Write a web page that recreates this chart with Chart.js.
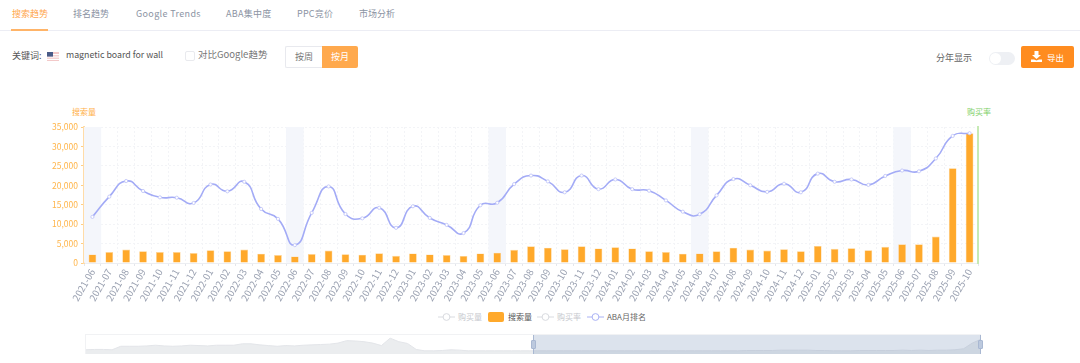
<!DOCTYPE html>
<html lang="zh">
<head>
<meta charset="utf-8">
<title>搜索趋势</title>
<script src="https://cdn.jsdelivr.net/npm/chart.js@4"></script>
<style>
html,body{margin:0;padding:0;background:#fff;}
body{width:1080px;height:363px;overflow:hidden;position:relative;font-family:"Noto Sans CJK SC","Noto Sans",sans-serif;}
.t{position:absolute;white-space:nowrap;line-height:1;}
.box{position:absolute;box-sizing:border-box;}
canvas{position:absolute;display:block;}
</style>
</head>
<body>
<div class="t" style="left:12px;top:9px;font-size:9px;color:#FFA64D">搜索趋势</div>
<div class="t" style="left:73px;top:9px;font-size:9px;color:#8b93a3">排名趋势</div>
<div class="t" style="left:136px;top:9px;font-size:9px;letter-spacing:.35px;color:#8b93a3">Google Trends</div>
<div class="t" style="left:226px;top:9px;font-size:9px;letter-spacing:.3px;color:#8b93a3">ABA集中度</div>
<div class="t" style="left:297px;top:9px;font-size:9px;letter-spacing:.2px;color:#8b93a3">PPC竞价</div>
<div class="t" style="left:359px;top:9px;font-size:9px;color:#8b93a3">市场分析</div>
<div class="box" style="left:0;top:30px;width:1080px;height:1px;background:#ecedf4"></div>
<div class="box" style="left:11px;top:29px;width:37px;height:2px;background:#FFB468"></div>

<div class="t" style="left:12px;top:51px;font-size:9px;color:#555">关键词:</div>
<svg class="box" style="left:47px;top:52px" width="12" height="9" viewBox="0 0 12 9">
<rect width="12" height="9" fill="#f3c9c9"/><rect y="2" width="12" height="1.2" fill="#fff"/><rect y="4.4" width="12" height="1.2" fill="#fff"/><rect y="6.8" width="12" height="1.2" fill="#fff"/><rect width="6" height="4.6" fill="#4a5c88"/>
</svg>
<div class="t" style="left:66px;top:51px;font-size:8.8px;color:#555">magnetic board for wall</div>
<div class="box" style="left:185px;top:51px;width:10px;height:10px;border:1px solid #e9eaee;border-radius:2px"></div>
<div class="t" style="left:198px;top:50px;font-size:9.5px;color:#777">对比Google趋势</div>
<div class="box" style="left:285px;top:46px;width:37px;height:22px;border:1px solid #e8e9ee;border-right:0;border-radius:2px 0 0 2px"></div>
<div class="t" style="left:295px;top:52px;font-size:9px;color:#777">按周</div>
<div class="box" style="left:322px;top:46px;width:36px;height:22px;background:#FFA94D;border-radius:0 2px 2px 0"></div>
<div class="t" style="left:331px;top:52px;font-size:9px;color:#fff">按月</div>

<div class="t" style="left:936px;top:53px;font-size:9px;color:#666">分年显示</div>
<div class="box" style="left:989px;top:52px;width:26px;height:13px;background:#eef0f4;border-radius:7px"></div>
<div class="box" style="left:990px;top:53px;width:11px;height:11px;background:#fff;border-radius:50%"></div>
<div class="box" style="left:1021px;top:46px;width:53px;height:22px;background:#FF8C1F;border-radius:2px"></div>
<svg class="box" style="left:1031px;top:51px" width="11" height="11" viewBox="0 0 11 11">
<path d="M3.5 0h4v4H10L5.5 8 1 4h2.5zM0 8.5h3l2.5 1 2.5-1h3V11H0z" fill="#fff"/>
</svg>
<div class="t" style="left:1047px;top:53px;font-size:8.5px;color:#fff">导出</div>

<div class="t" style="left:72px;top:108px;font-size:8px;color:#FFB048">搜索量</div>
<div class="t" style="left:967px;top:108px;font-size:8px;color:#7FD06A">购买率</div>

<canvas id="main" style="left:0;top:100px" width="1080" height="210"></canvas>

<div id="legend"></div>

<div class="box" style="left:85px;top:334px;width:896px;height:20px;border:1px solid #f1f2f4"></div>
<canvas id="overview" style="left:86px;top:335px" width="895" height="19"></canvas>
<div class="box" style="left:533px;top:335px;width:448px;height:19px;background:rgba(130,155,190,.28);border-left:1px solid #a9b8d2;border-right:1px solid #a9b8d2"></div>
<div class="box" style="left:531px;top:340px;width:5px;height:9px;background:#bcc9de;border:1px solid #a9b8d2;border-radius:1px"></div>
<div class="box" style="left:978px;top:340px;width:5px;height:9px;background:#bcc9de;border:1px solid #a9b8d2;border-radius:1px"></div>

<script>
const months = [
"2021-06","2021-07","2021-08","2021-09","2021-10","2021-11","2021-12",
"2022-01","2022-02","2022-03","2022-04","2022-05","2022-06","2022-07","2022-08","2022-09","2022-10","2022-11","2022-12",
"2023-01","2023-02","2023-03","2023-04","2023-05","2023-06","2023-07","2023-08","2023-09","2023-10","2023-11","2023-12",
"2024-01","2024-02","2024-03","2024-04","2024-05","2024-06","2024-07","2024-08","2024-09","2024-10","2024-11","2024-12",
"2025-01","2025-02","2025-03","2025-04","2025-05","2025-06","2025-07","2025-08","2025-09","2025-10"];
const searchVolume = [
2200,2800,3450,3050,2800,2800,2550,
3300,3050,3450,2400,2050,1700,2300,3200,2250,2150,2500,1850,
2450,2200,2050,1800,2450,2650,3400,4300,3950,3550,4300,3750,
4050,3750,3050,2800,2400,2450,3000,3950,3450,3200,3550,3050,
4400,3650,3800,3300,4150,4800,4800,6800,24400,33400];
const abaRankLine = [
11870,17080,21100,18530,16900,16800,15450,
20200,18450,20900,13900,11350,4600,12900,19700,12600,11500,14200,9050,
14600,11600,9800,7700,14860,15500,20300,22500,21000,18200,22500,19000,
21500,19000,18600,16100,13200,12550,17400,21600,20000,18300,20400,18200,
23000,20900,21500,20100,22400,23800,23600,26900,32700,33400];
const juneBands = [
35000,null,null,null,null,null,null,
null,null,null,null,null,35000,null,null,null,null,null,null,
null,null,null,null,null,35000,null,null,null,null,null,null,
null,null,null,null,null,35000,null,null,null,null,null,null,
null,null,null,null,null,35000,null,null,null,null];
const yTicks = [0,5000,10000,15000,20000,25000,30000,35000];
const overviewHistory = [
12,13,13,12,22,22,22,23,25,23,22,23,25,24,23,25,25,25,29,29,
26,24,22,24,23,25,26,27,28,31,38,37,35,31,24,45,35,30,13,9,
9,10,12,11,9,9,9,9,9,9,9];
const overviewRecent = [
9,9,9,9,9,9,9,9,9,9,9,9,9,9,9,9,9,9,9,
9,9,9,9,9,9,10,10,10,10,11,11,11,11,10,10,9,9,9,10,10,10,10,10,
11,10,11,10,11,11,12,15,31,42];
const legendItems = [
 {name:"购买量",kind:"line",color:"#d9dbe0",text:"#c6c8ce",x:438,tx:458},
 {name:"搜索量",kind:"bar", color:"#FFA92B",text:"#555",   x:488,tx:508},
 {name:"购买率",kind:"line",color:"#d9dbe0",text:"#c6c8ce",x:537,tx:557},
 {name:"ABA月排名",kind:"line",color:"#aab2f5",text:"#666",x:587,tx:607}
];

const fontFamily = '"Noto Sans CJK SC","Noto Sans",sans-serif';

new Chart(document.getElementById("main"), {
  data: {
    labels: months,
    datasets: [
      {type:"line",label:"ABA月排名",data:abaRankLine,yAxisID:"y",order:1,
       borderColor:"#a3abf6",borderWidth:1.6,tension:.55,
       pointRadius:1.6,pointBackgroundColor:"#fff",pointBorderColor:"#bcc2f8",pointBorderWidth:.8},
      {type:"bar",label:"搜索量",data:searchVolume,yAxisID:"y",order:2,grouped:false,
       backgroundColor:"#FFA92B",borderColor:"#FFD596",borderWidth:.6,
       barPercentage:.46,categoryPercentage:1},
      {type:"bar",label:"六月",data:juneBands,yAxisID:"y",order:3,grouped:false,
       backgroundColor:"#f4f6fb",borderWidth:0,barPercentage:1,categoryPercentage:1}
    ]
  },
  options: {
    responsive:false,animation:false,
    layout:{padding:{top:27,left:0,right:0,bottom:0}},
    plugins:{legend:{display:false},tooltip:{enabled:false},title:{display:false}},
    scales:{
      x:{
        offset:true,
        afterFit(s){s.height=47;},
        border:{color:"#eceef2",width:1,dash:[2,2]},
        grid:{color:"#f3f4f7",tickColor:"#e4e6ec",tickLength:3,offset:true,lineWidth:1},
        ticks:{autoSkip:false,maxRotation:60,minRotation:60,padding:1,color:"#9aa1b1",
               font:{size:9.5,family:fontFamily}}
      },
      y:{
        position:"left",min:0,max:35000,
        afterFit(s){s.width=84;},
        afterBuildTicks(s){s.ticks=yTicks.map(v=>({value:v}));},
        border:{color:"#FFDCA8",width:2,dash:[2,2]},
        grid:{color:"#f3f4f7",tickColor:"#FFCE85",tickLength:3,lineWidth:1},
        ticks:{padding:3,color:"#FFB54A",font:{size:8.5,family:fontFamily},
               callback:v=>v.toLocaleString("en-US")}
      },
      right:{
        position:"right",min:0,max:35000,
        afterFit(s){s.width=102;},
        border:{color:"#C6EAB4",width:2},
        grid:{drawOnChartArea:false,drawTicks:false},
        ticks:{display:false}
      }
    }
  }
});

const overviewValues = overviewHistory.concat(overviewRecent);
new Chart(document.getElementById("overview"), {
  type:"line",
  data:{labels:overviewValues.map((_,i)=>i),
        datasets:[{data:overviewValues,fill:"origin",backgroundColor:"#ebedef",
                   borderColor:"#e3e5e9",borderWidth:1,pointRadius:0,tension:0}]},
  options:{responsive:false,animation:false,
    plugins:{legend:{display:false},tooltip:{enabled:false}},
    layout:{padding:0},
    scales:{x:{display:false,offset:false},y:{display:false,min:0,max:54}}}
});

const legend = document.getElementById("legend");
legendItems.forEach(it=>{
  let mark;
  if(it.kind==="bar"){
    mark=`<div class="box" style="left:${it.x}px;top:312px;width:16px;height:10px;background:${it.color};border-radius:2px"></div>`;
  }else{
    mark=`<svg class="box" style="left:${it.x}px;top:311px" width="17" height="12" viewBox="0 0 17 12"><path d="M0 6H17" stroke="${it.color}" stroke-width="1"/><circle cx="8.5" cy="6" r="3.4" fill="#fff" stroke="${it.color}" stroke-width="1"/></svg>`;
  }
  legend.insertAdjacentHTML("beforeend",mark+`<div class="t" style="left:${it.tx}px;top:313px;font-size:8px;color:${it.text}">${it.name}</div>`);
});
</script>
</body>
</html>
